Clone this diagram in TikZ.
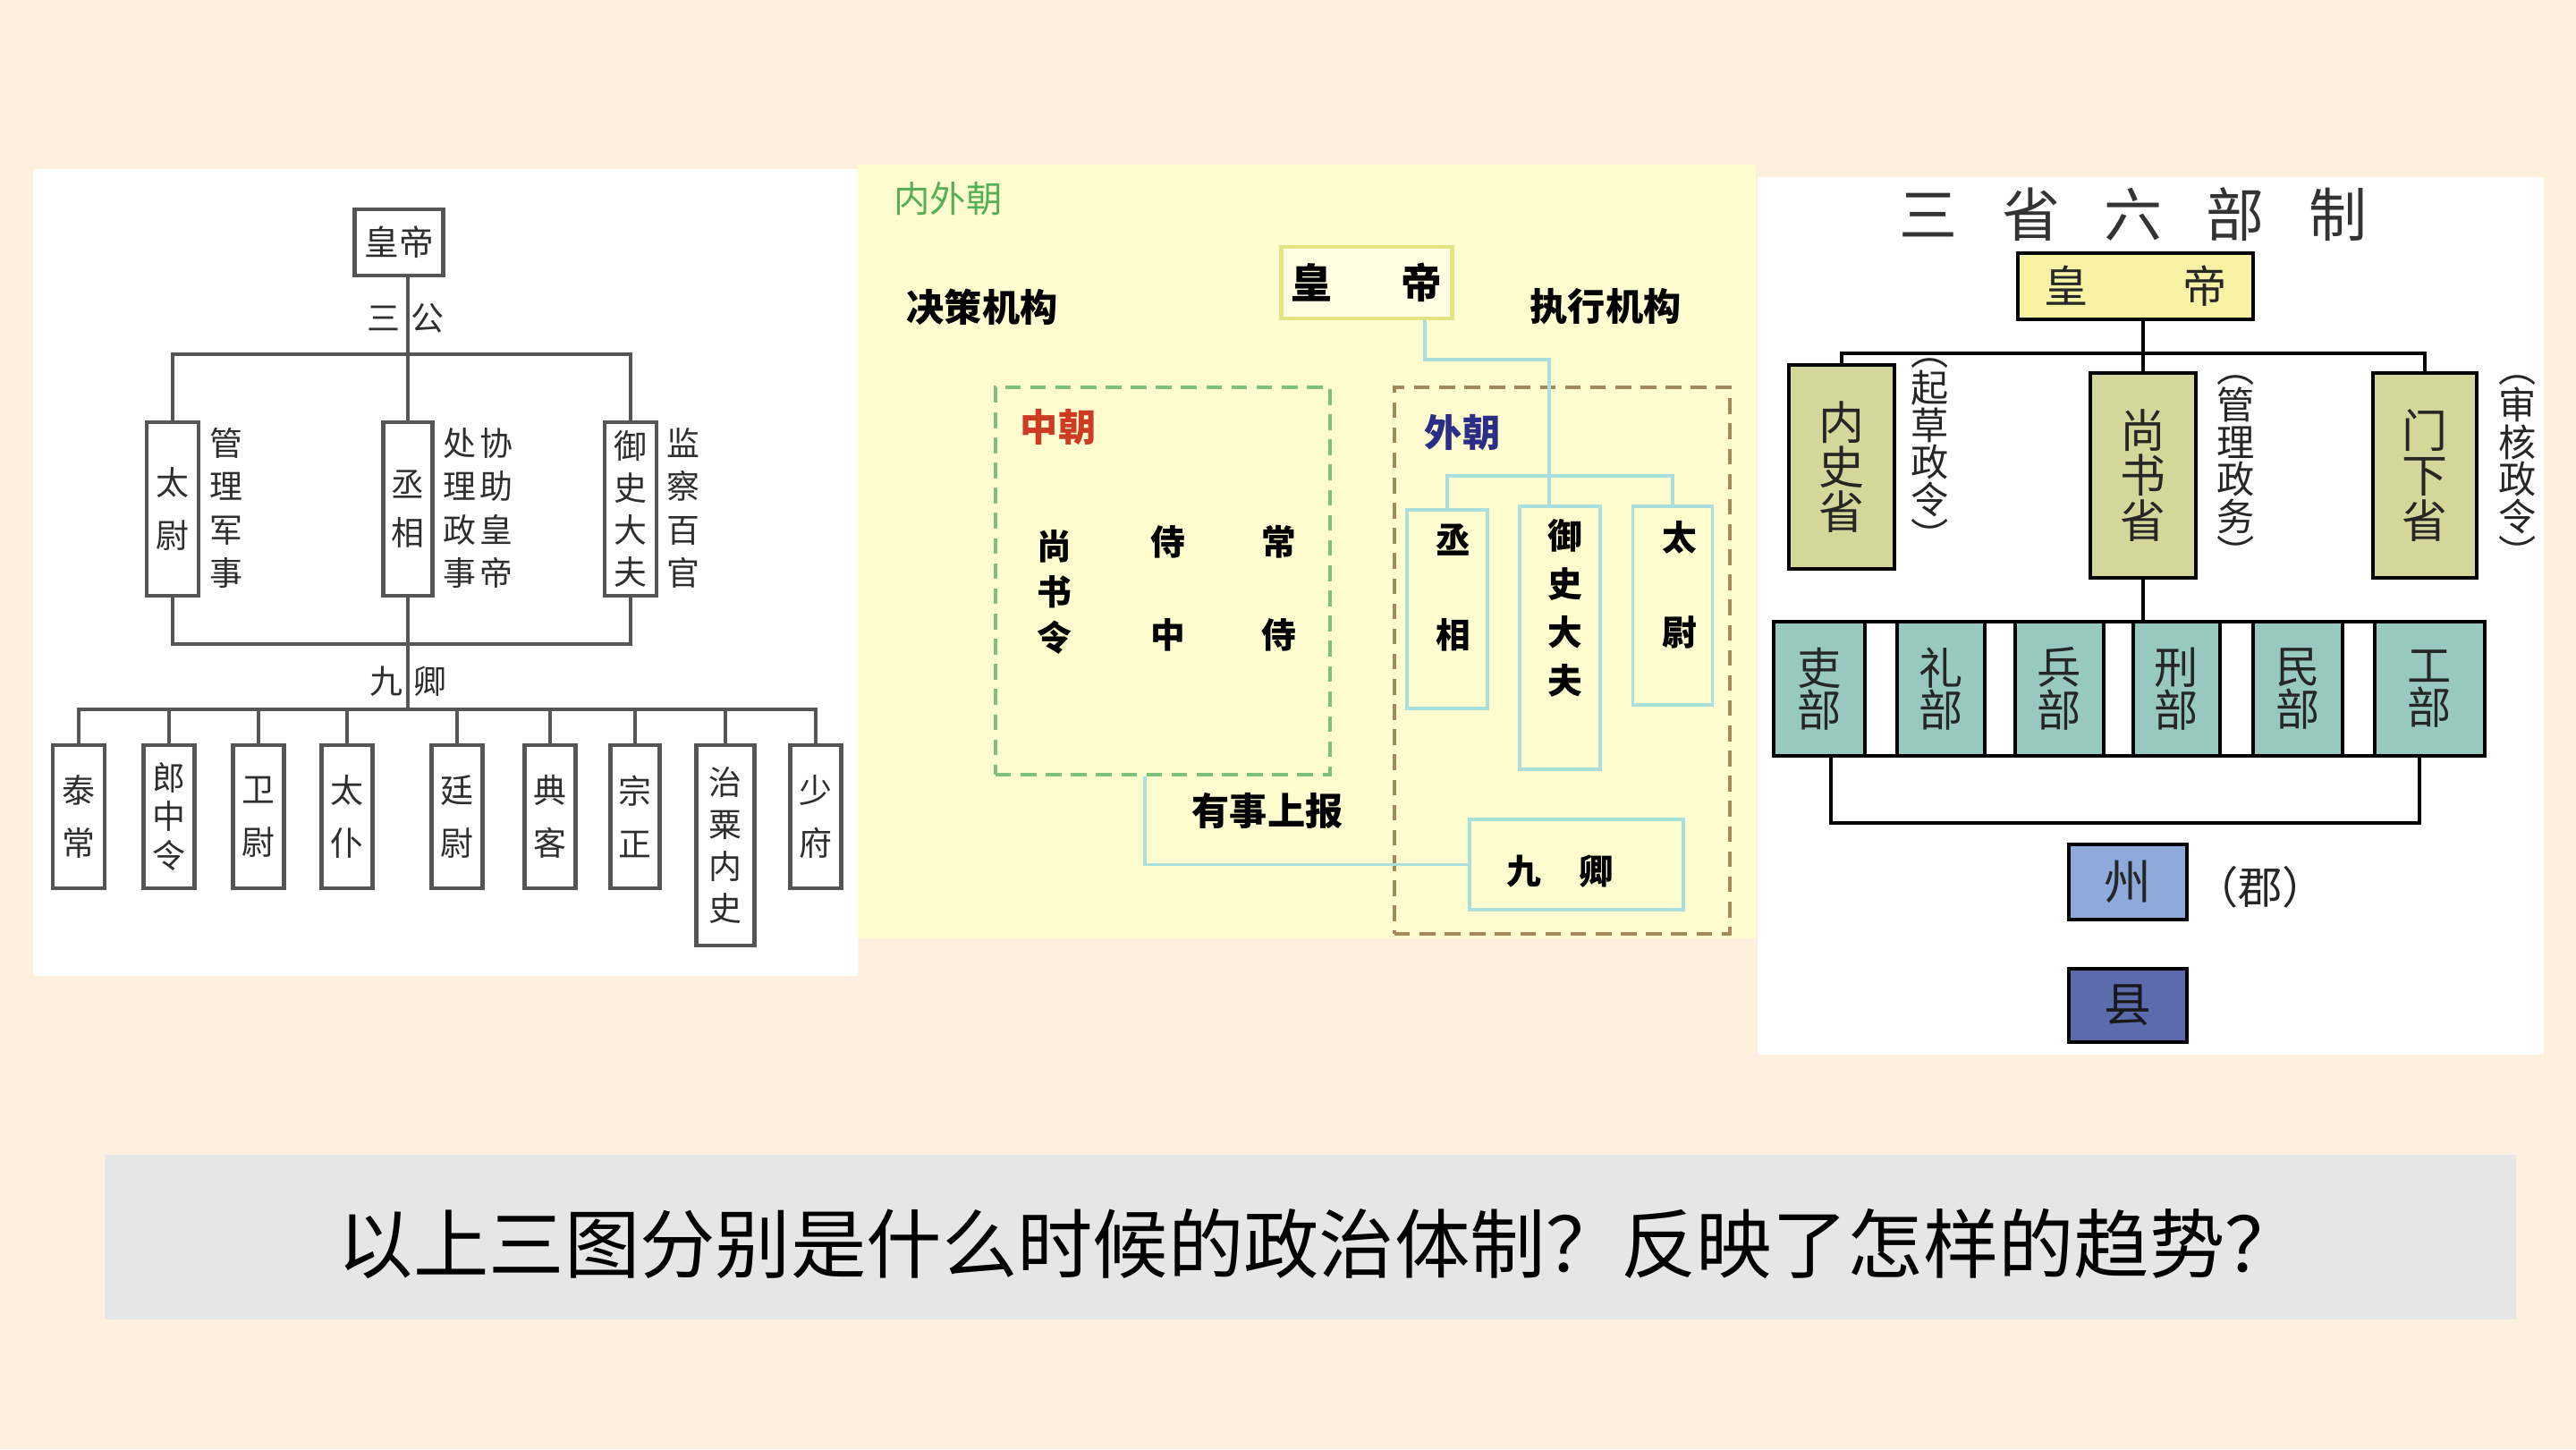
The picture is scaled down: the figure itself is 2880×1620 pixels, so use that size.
\documentclass[tikz,border=0pt]{standalone}
\usepackage{fontspec}
\usepackage{graphicx}
\newfontfamily\cjk{Noto Sans CJK SC}
\newcommand\fsz[2]{\fontsize{#1pt}{#2pt}\selectfont}
\definecolor{bgcream}{HTML}{FEF0DF}
\definecolor{ptwo}{HTML}{FFFCCF}
\definecolor{barGray}{HTML}{E6E6E6}
\definecolor{lineone}{HTML}{555555}
\definecolor{txtone}{HTML}{2E2E2E}
\definecolor{cyanl}{HTML}{A9DFDD}
\definecolor{hdyel}{HTML}{E4E47E}
\definecolor{greend}{HTML}{7CC27C}
\definecolor{brownd}{HTML}{A48A5A}
\definecolor{greent}{HTML}{55B055}
\definecolor{redt}{HTML}{CC3B22}
\definecolor{bluet}{HTML}{2B2E86}
\definecolor{yelthree}{HTML}{F7F2A4}
\definecolor{khaki}{HTML}{D5D69A}
\definecolor{teal}{HTML}{98C9C0}
\definecolor{zhoub}{HTML}{8DAADB}
\definecolor{xianb}{HTML}{5B6BAE}
\tikzset{
  lone/.style={draw=lineone, line width=0.9pt},
  bone/.style={draw=lineone, line width=1.3pt, fill=white, inner sep=0pt, align=center, text=txtone},
  tone/.style={inner sep=0pt, align=center, text=txtone},
  ltwo/.style={draw=cyanl, line width=1.1pt},
  btwo/.style={draw=cyanl, line width=1.1pt, inner sep=0pt},
  ttwo/.style={inner sep=0pt, align=center, text=black, font=\cjk\bfseries\fsz{11}{14}},
  lthree/.style={draw=black, line width=0.9pt},
  bthree/.style={draw=black, line width=1.0pt, inner sep=0pt, align=center, text=black!85},
  tthree/.style={inner sep=0pt, align=center, text=black!85}
}
\begin{document}
\begin{tikzpicture}[x=0.01cm, y=-0.01cm]
\path[fill=bgcream] (0,0) rectangle (2880,1620);
% panels
\path[fill=white] (37,189) rectangle (959,1091);
\path[fill=ptwo] (959,184) rectangle (1963,1049);
\path[fill=white] (1965,198) rectangle (2844,1179);

%%%%%%%%%%%% Panel 1 %%%%%%%%%%%%
\node[bone, minimum width=0.99cm, minimum height=0.74cm, font=\cjk\fsz{11}{13}] (hd1) at (446,271) {皇帝};
\node[bone, minimum width=0.58cm, minimum height=1.94cm, font=\cjk\fsz{10.5}{16.8}] (tw1) at (193,569) {太\\尉};
\node[bone, minimum width=0.55cm, minimum height=1.94cm, font=\cjk\fsz{10.5}{15.5}] (cx1) at (456,569) {丞\\相};
\node[bone, minimum width=0.58cm, minimum height=1.94cm, font=\cjk\fsz{10.5}{13.4}] (ys1) at (705,569) {御\\史\\大\\夫};
\node[tone, font=\cjk\fsz{10.5}{13.7}] (a1) at (253,568) {管\\理\\军\\事};
\node[tone, font=\cjk\fsz{10.5}{13.7}] (a2) at (514,568) {处\\理\\政\\事};
\node[tone, font=\cjk\fsz{10.5}{13.7}] (a3) at (555,568) {协\\助\\皇\\帝};
\node[tone, font=\cjk\fsz{10.5}{13.7}] (a4) at (764,568) {监\\察\\百\\官};
\node[tone, font=\cjk\fsz{10.5}{13}] (sg1) at (429,356) {三};
\node[tone, font=\cjk\fsz{10.5}{13}] (sg2) at (478,356) {公};
\node[tone, font=\cjk\fsz{10.5}{13}] (jq1a) at (432,762) {九};
\node[tone, font=\cjk\fsz{10.5}{13}] (jq1b) at (481,762) {卿};
\node[bone, minimum width=0.58cm, minimum height=1.60cm, font=\cjk\fsz{10.5}{16.7}] (m1) at (88,913) {泰\\常};
\node[bone, minimum width=0.57cm, minimum height=1.60cm, font=\cjk\fsz{10.5}{12.5}] (m2) at (189,913) {郎\\中\\令};
\node[bone, minimum width=0.57cm, minimum height=1.60cm, font=\cjk\fsz{10.5}{16.7}] (m3) at (289,913) {卫\\尉};
\node[bone, minimum width=0.57cm, minimum height=1.60cm, font=\cjk\fsz{10.5}{16.7}] (m4) at (388,913) {太\\仆};
\node[bone, minimum width=0.57cm, minimum height=1.60cm, font=\cjk\fsz{10.5}{16.7}] (m5) at (511,913) {廷\\尉};
\node[bone, minimum width=0.57cm, minimum height=1.60cm, font=\cjk\fsz{10.5}{16.7}] (m6) at (615,913) {典\\客};
\node[bone, minimum width=0.55cm, minimum height=1.60cm, font=\cjk\fsz{10.5}{16.7}] (m7) at (710,913) {宗\\正};
\node[bone, minimum width=0.65cm, minimum height=2.24cm, font=\cjk\fsz{10.5}{13.4}] (m8) at (811,945) {治\\粟\\内\\史};
\node[bone, minimum width=0.57cm, minimum height=1.60cm, font=\cjk\fsz{10.5}{16.7}] (m9) at (912,913) {少\\府};
\coordinate (bar1) at (454,396);
\coordinate (bar2) at (457,720);
\coordinate (bus) at (457,793);
\draw[lone] (cx1.north |- hd1.south) -- (cx1.north);
\draw[lone] (tw1.north) |- (bar1) -| (ys1.north);
\draw[lone] (tw1.south) |- (bar2) -| (ys1.south);
\draw[lone] (cx1.south) -- (cx1.south |- bus);
\draw[lone] (m1.north) |- (bus) -| (m9.north);
\foreach \i in {2,...,8} \draw[lone] (m\i.north) -- (m\i.north |- bus);

%%%%%%%%%%%% Panel 2 %%%%%%%%%%%%
\node[inner sep=0pt, text=greent, font=\cjk\fsz{11.5}{14}] (nwc) at (1060,222) {内外朝};
\node[ttwo, font=\cjk\bfseries\fsz{12}{14}] (jc) at (1098,343) {决策机构};
\node[ttwo, font=\cjk\bfseries\fsz{12}{14}] (zx) at (1795,343) {执行机构};
\node[draw=hdyel, line width=1.3pt, fill=ptwo!60!white, minimum width=1.91cm, minimum height=0.80cm, inner sep=0pt, font=\cjk\bfseries\fsz{13}{15}] (hd2) at (1528,316) {皇\hspace{22pt}帝};
\node[draw=greend, dashed, dash pattern=on 5pt off 3pt, line width=1.2pt, minimum width=3.74cm, minimum height=4.33cm, inner sep=0pt] (zc) at (1300,649.5) {};
\node[draw=brownd, dashed, dash pattern=on 5pt off 3pt, line width=1.2pt, minimum width=3.75cm, minimum height=6.11cm, inner sep=0pt] (wc) at (1746.5,738.5) {};
\node[ttwo, text=redt, font=\cjk\bfseries\fsz{12}{14}] (zct) at (1183,477) {中朝};
\node[ttwo, text=bluet, font=\cjk\bfseries\fsz{12}{14}] (wct) at (1635,483) {外朝};
\node[ttwo, font=\cjk\bfseries\fsz{11}{14.5}] (ssl) at (1179,662) {尚\\书\\令};
\node[ttwo, font=\cjk\bfseries\fsz{11}{29.6}] (szt) at (1306,658) {侍\\中};
\node[ttwo, font=\cjk\bfseries\fsz{11}{29.6}] (cst) at (1430,658) {常\\侍};
\node[btwo, minimum width=0.90cm, minimum height=2.22cm] (cx2) at (1618,681) {};
\node[btwo, minimum width=0.90cm, minimum height=2.94cm] (ys2) at (1744,713) {};
\node[btwo, minimum width=0.89cm, minimum height=2.22cm] (tw2) at (1870,677) {};
\node[btwo, minimum width=2.39cm, minimum height=1.01cm] (jq2) at (1762.5,966.5) {};
\node[ttwo, font=\cjk\bfseries\fsz{11}{30}] (cx2t) at (1625,657) {丞\\相};
\node[ttwo, font=\cjk\bfseries\fsz{11}{15.4}] (ys2t) at (1750,680) {御\\史\\大\\夫};
\node[ttwo, font=\cjk\bfseries\fsz{11}{30}] (tw2t) at (1878,654) {太\\尉};
\node[ttwo, font=\cjk\bfseries\fsz{11}{14}] (jq2t) at (1744,974) {九\hspace{12pt}卿};
\node[ttwo, font=\cjk\bfseries\fsz{12}{14}] (ysb) at (1417,907) {有事上报};
\coordinate (k1) at (1593,402);
\coordinate (k2) at (1732,402);
\coordinate (k3) at (1744,532);
\coordinate (k5) at (1280,968);
\draw[ltwo] (hd2.south -| k1) -- (k1) -- (k2) -- (k2 |- ys2.north);
\draw[ltwo] (cx2.north) |- (k3) -| (tw2.north);
\draw[ltwo] (zc.south -| k5) |- (jq2.west);

%%%%%%%%%%%% Panel 3 %%%%%%%%%%%%
\node[tthree, text=black!80, font=\cjk\fsz{18.5}{20}] (title3) at (2385,240) {三\hspace{14pt}省\hspace{14pt}六\hspace{14pt}部\hspace{14pt}制};
\node[bthree, fill=yelthree, minimum width=2.63cm, minimum height=0.74cm, font=\cjk\fsz{14}{16}] (hd3) at (2387.5,320) {皇\hspace{30pt}帝};
\node[bthree, fill=khaki, minimum width=1.18cm, minimum height=2.28cm, font=\cjk\fsz{14.5}{14.3}] (ns) at (2059,522) {内\\史\\省};
\node[bthree, fill=khaki, minimum width=1.18cm, minimum height=2.29cm, font=\cjk\fsz{14.5}{14.3}] (ss) at (2396,531.5) {尚\\书\\省};
\node[bthree, fill=khaki, minimum width=1.16cm, minimum height=2.29cm, font=\cjk\fsz{14.5}{14.3}] (mx) at (2711,531.5) {门\\下\\省};
\node[tthree, font=\cjk\fsz{12}{11.8}] (an1) at (2158,508) {︵\\起\\草\\政\\令\\︶};
\node[tthree, font=\cjk\fsz{12}{11.8}] (an2) at (2500,527) {︵\\管\\理\\政\\务\\︶};
\node[tthree, font=\cjk\fsz{12}{11.8}] (an3) at (2815,527) {︵\\审\\核\\政\\令\\︶};
\node[draw=black, line width=1.0pt, fill=white, minimum width=7.95cm, minimum height=1.50cm, inner sep=0pt] (fr) at (2380.5,770) {};
\node[bthree, fill=teal, minimum width=1.02cm, minimum height=1.50cm, font=\cjk\fsz{14}{13.5}] (lb) at (2034,770) {吏\\部};
\node[bthree, fill=teal, minimum width=0.98cm, minimum height=1.50cm, font=\cjk\fsz{14}{13.5}] (lib) at (2170,770) {礼\\部};
\node[bthree, fill=teal, minimum width=0.99cm, minimum height=1.50cm, font=\cjk\fsz{14}{13.5}] (bb) at (2302.5,770) {兵\\部};
\node[bthree, fill=teal, minimum width=0.97cm, minimum height=1.50cm, font=\cjk\fsz{14}{13.5}] (xb) at (2433.5,770) {刑\\部};
\node[bthree, fill=teal, minimum width=1.00cm, minimum height=1.50cm, font=\cjk\fsz{14}{13.5}] (mb) at (2569,770) {民\\部};
\node[bthree, fill=teal, minimum width=1.23cm, minimum height=1.50cm, font=\cjk\fsz{14}{13.5}] (gb) at (2716.5,770) {工\\部};
\node[bthree, fill=zhoub, minimum width=1.32cm, minimum height=0.84cm, font=\cjk\fsz{15}{17}] (zh) at (2379,986) {州};
\node[tthree, font=\cjk\fsz{14}{16}] (jun) at (2527,992) {（郡）};
\node[bthree, fill=xianb, minimum width=1.32cm, minimum height=0.82cm, font=\cjk\fsz{15}{17}, text=black!90] (xian) at (2379,1124) {县};
\coordinate (k8) at (2398,395);
\coordinate (k6) at (2047,920);
\coordinate (k7) at (2705,920);
\draw[lthree] (ss.north |- hd3.south) -- (ss.north);
\draw[lthree] (ns.north) |- (k8) -| (mx.north);
\draw[lthree] (ss.south) -- (ss.south |- fr.north);
\draw[lthree] (lb.south -| k6) -- (k6) -- (k7) -- (k7 |- gb.south);

%%%%%%%%%%%% Bottom bar %%%%%%%%%%%%
\node[fill=barGray, minimum width=26.94cm, minimum height=1.84cm, inner sep=0pt] (qbar) at (1465,1383) {};
\node[inner sep=0pt, font=\cjk\fsz{24}{26}, text=black] (qtext) at (1475,1390) {以上三图分别是什么时候的政治体制？反映了怎样的趋势？};
\end{tikzpicture}
\end{document}
